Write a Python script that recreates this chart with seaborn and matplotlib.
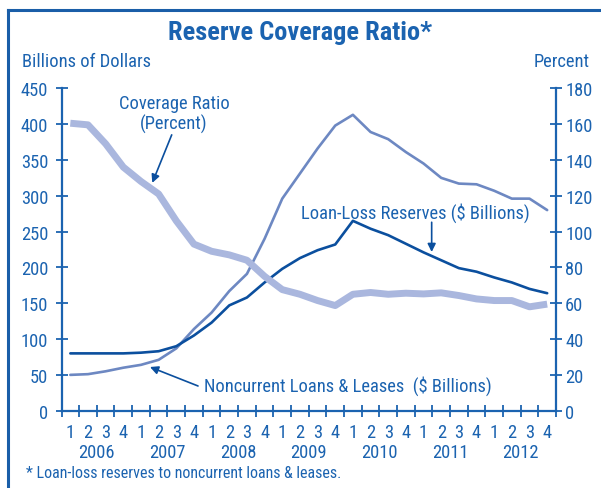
import matplotlib
matplotlib.use("Agg")
import matplotlib.pyplot as plt
import seaborn as sns
import pandas as pd
import numpy as np

years = ["2006", "2007", "2008", "2009", "2010", "2011", "2012"]
quarter_labels = ["1", "2", "3", "4"] * 7

noncurrent = [50, 51, 55, 60, 64, 71, 87, 114, 137, 167, 191, 240, 296, 331,
              366, 398, 413, 389, 379, 361, 345, 325, 317, 316, 307, 296, 296, 280]
reserves = [80, 80, 80, 80, 81, 83, 90, 105, 123, 147, 158, 179, 198, 213,
            224, 232, 265, 254, 245, 233, 221, 210, 199, 194, 186, 179, 170, 164]
coverage = [160.5, 159.6, 149, 136, 128, 121, 106, 93, 89, 87, 84, 75, 67.6, 65,
            61.5, 58.7, 65, 66, 65, 65.6, 65.2, 65.8, 64.3, 62.4, 61.5, 61.5, 58, 59.5]

TEXT = "#1b63b0"
DARK = "#0b4f9e"
MED = "#6d88c2"
LIGHT = "#aab7de"

sns.set_style("white")
plt.rcParams["font.family"] = ["Roboto Condensed", "Liberation Sans", "DejaVu Sans"]

df = pd.DataFrame({"q": np.arange(len(noncurrent)), "noncurrent": noncurrent,
                   "reserves": reserves, "coverage": coverage})

fig = plt.figure(figsize=(6.01, 4.89), dpi=100)
ax = fig.add_axes([61.5 / 601, 1 - 411.7 / 489, (556 - 61.5) / 601, (411.7 - 89.3) / 489])
ax2 = ax.twinx()

sns.lineplot(data=df, x="q", y="noncurrent", ax=ax, color=MED, linewidth=1.9, zorder=3)
sns.lineplot(data=df, x="q", y="reserves", ax=ax, color=DARK, linewidth=1.9, zorder=4)
sns.lineplot(data=df, x="q", y="coverage", ax=ax2, color=LIGHT, linewidth=5.0,
             solid_capstyle="butt", zorder=2)

n = len(noncurrent)
for a in (ax, ax2):
    a.set_xlim(-0.5, n - 0.5)
    a.set_xlabel("")
    a.set_ylabel("")
    for s in a.spines.values():
        s.set_visible(False)
ax.set_ylim(0, 450)
ax2.set_ylim(0, 180)

ax.spines["left"].set_visible(True)
ax.spines["bottom"].set_visible(True)
ax2.spines["right"].set_visible(True)
for s in (ax.spines["left"], ax.spines["bottom"], ax2.spines["right"]):
    s.set_color(TEXT)
    s.set_linewidth(1.6)

FS = 13.3
ax.set_yticks(np.arange(0, 451, 50))
ax2.set_yticks(np.arange(0, 181, 20))
ax.tick_params(axis="y", direction="inout", length=9, width=1.3, color=TEXT,
               labelcolor=TEXT, labelsize=FS, pad=5, left=True)
ax2.tick_params(axis="y", direction="inout", length=9, width=1.3, color=TEXT,
                labelcolor=TEXT, labelsize=FS, pad=2, right=True)

ax.set_xticks(np.arange(-0.5, n, 1.0))
ax.set_xticklabels([])
ax.set_xticks(np.arange(n), minor=True)
ax.set_xticklabels(quarter_labels, minor=True)
ax.tick_params(axis="x", which="major", direction="inout", length=9, width=1.3,
               color=TEXT, bottom=True)
ax.tick_params(axis="x", which="minor", length=0, labelcolor=TEXT, labelsize=FS,
               pad=9, bottom=True)
ax2.tick_params(axis="x", which="both", bottom=False, labelbottom=False)

for i, y in enumerate(years):
    ax.text(4 * i + 1.5, -0.127, y, transform=ax.get_xaxis_transform(),
            ha="center", va="center", fontsize=FS, color=TEXT)

arrow = dict(arrowstyle="-|>", color=DARK, lw=1.2, shrinkA=0, shrinkB=0, mutation_scale=12)
ax.text(5.87, 415, "Coverage Ratio\n(Percent)", ha="center", va="center",
        fontsize=FS, color=TEXT, linespacing=1.1)
ax.annotate("", xy=(4.64, 318), xytext=(5.74, 385), arrowprops=arrow)
ax.text(19.52, 277, "Loan-Loss Reserves ($ Billions)", ha="center", va="center",
        fontsize=FS, color=TEXT)
ax.annotate("", xy=(20.46, 221.5), xytext=(20.46, 263), arrowprops=arrow)
ax.text(15.7, 36, "Noncurrent Loans & Leases  ($ Billions)", ha="center", va="center",
        fontsize=FS, color=TEXT)
ax.annotate("", xy=(4.51, 61), xytext=(7.23, 34.5), arrowprops=arrow)

fig.text(0.5, 1 - 33 / 489, "Reserve Coverage Ratio*", ha="center", va="center",
         fontsize=19, fontweight="bold", color=TEXT)
fig.text(22 / 601, 1 - 62 / 489, "Billions of Dollars", ha="left", va="center",
         fontsize=FS, color=TEXT)
fig.text(590 / 601, 1 - 62 / 489, "Percent", ha="right", va="center",
         fontsize=FS, color=TEXT)
fig.text(26 / 601, 1 - 474 / 489, "* Loan-loss reserves to noncurrent loans & leases.",
         ha="left", va="center", fontsize=11.5, color=TEXT)

frame_color = "#1a5ea8"
fig.add_artist(plt.Line2D([8 / 601, 8 / 601], [0, 1 - 11 / 489], transform=fig.transFigure,
                          color=frame_color, linewidth=2.2, solid_capstyle="projecting"))
fig.add_artist(plt.Line2D([8 / 601, 1.0], [1 - 11 / 489, 1 - 11 / 489], transform=fig.transFigure,
                          color=frame_color, linewidth=2.2, solid_capstyle="projecting"))

fig.savefig("out.png", dpi=100)
